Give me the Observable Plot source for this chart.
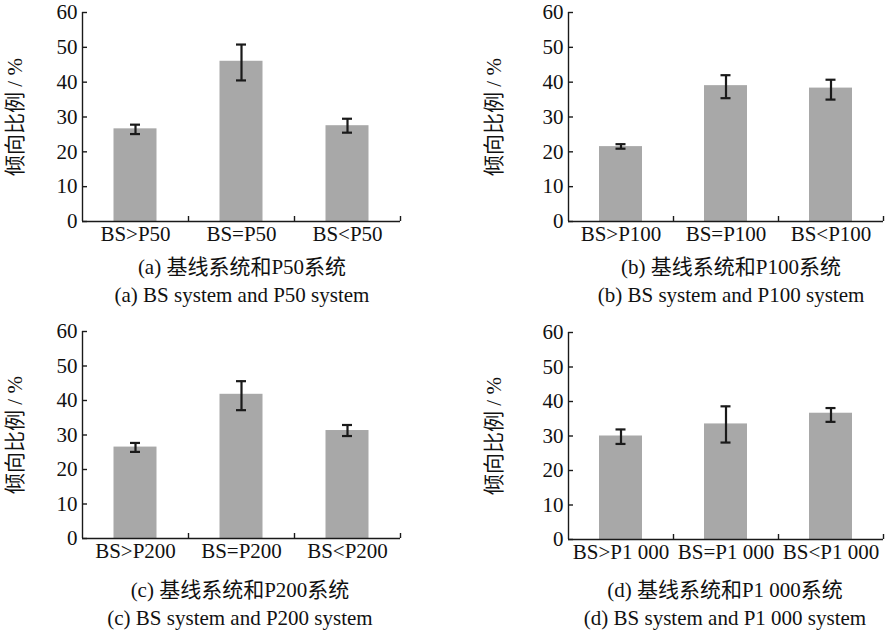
<!DOCTYPE html>
<html><head><meta charset="utf-8">
<script src="https://cdn.jsdelivr.net/npm/d3@7"></script>
<script src="https://cdn.jsdelivr.net/npm/@observablehq/plot@0.6"></script>
<style>
body{margin:0;background:#fff;}
#root{position:relative;width:885px;height:632px;overflow:hidden;font-family:'Liberation Serif','Noto Sans CJK SC',serif;color:#111;}
.panel{position:absolute;}
.cap{position:absolute;font-size:21px;line-height:28px;white-space:nowrap;transform:translateX(-50%);}
</style></head>
<body><div id="root"></div>
<script>
// ---- data ----
const catsA = ["BS>P50", "BS=P50", "BS<P50"];
const valA = [26.6, 46.0, 27.5];
const loA = [25.1, 40.5, 25.5];
const hiA = [27.8, 50.8, 29.5];

const catsB = ["BS>P100", "BS=P100", "BS<P100"];
const valB = [21.5, 39.0, 38.3];
const loB = [20.9, 35.4, 35.0];
const hiB = [22.2, 42.0, 40.7];

const catsC = ["BS>P200", "BS=P200", "BS<P200"];
const valC = [26.5, 41.8, 31.3];
const loC = [25.1, 37.2, 29.7];
const hiC = [27.7, 45.6, 32.9];

const catsD = ["BS>P1 000", "BS=P1 000", "BS<P1 000"];
const valD = [30.0, 33.5, 36.6];
const loD = [27.7, 28.1, 34.1];
const hiD = [31.9, 38.6, 38.1];

const yTicks = [0, 10, 20, 30, 40, 50, 60];
const yLabel = "倾向比例 / %";
const captionsCN = ["(a) 基线系统和P50系统", "(b) 基线系统和P100系统", "(c) 基线系统和P200系统", "(d) 基线系统和P1 000系统"];
const captionsEN = ["(a) BS system and P50 system", "(b) BS system and P100 system", "(c) BS system and P200 system", "(d) BS system and P1 000 system"];

// ---- layout ----
const panels = [
  {cats: catsA, val: valA, lo: loA, hi: hiA, left: 0, top: 0, width: 442, height: 250, mt: 12, mb: 29, ml: 82, mr: 42, labelOffset: 75, capX: 242, capY1: 253, capY2: 281},
  {cats: catsB, val: valB, lo: loB, hi: hiB, left: 442, top: 0, width: 443, height: 250, mt: 12, mb: 29, ml: 126, mr: 2, labelOffset: 82, capX: 731, capY1: 253, capY2: 281},
  {cats: catsC, val: valC, lo: loC, hi: hiC, left: 0, top: 315, width: 442, height: 250, mt: 16, mb: 27, ml: 82, mr: 42, labelOffset: 75, capX: 240, capY1: 576, capY2: 604},
  {cats: catsD, val: valD, lo: loD, hi: hiD, left: 442, top: 315, width: 443, height: 250, mt: 17, mb: 26, ml: 126, mr: 2, labelOffset: 82, capX: 725, capY1: 576, capY2: 604}
];

const root = document.getElementById("root");
const axisColor = "#1a1a1a";

panels.forEach((p, i) => {
  const data = p.cats.map((c, k) => ({cat: c, v: p.val[k], lo: p.lo[k], hi: p.hi[k]}));
  const plotW = p.width - p.ml - p.mr;
  const plotH = p.height - p.mt - p.mb;
  const step = plotW / p.cats.length;
  const barW = 43;
  const capW = 10;
  const tickUnits = 5 * 60 / plotH;
  const chart = Plot.plot({
    width: p.width,
    height: p.height,
    marginTop: p.mt, marginBottom: p.mb, marginLeft: p.ml, marginRight: p.mr,
    style: {fontFamily: "'Liberation Serif','Noto Sans CJK SC',serif", fontSize: "21px", color: "#111", background: "transparent", overflow: "visible"},
    x: {domain: p.cats, padding: 0},
    y: {domain: [0, 60]},
    marks: [
      Plot.barY(data, {x: "cat", y: "v", fill: "#a8a8a8", insetLeft: (step - barW) / 2, insetRight: (step - barW) / 2}),
      Plot.ruleX(data, {x: "cat", y1: "lo", y2: "hi", stroke: "#1a1a1a", strokeWidth: 2.2}),
      Plot.tickY(data, {x: "cat", y: "lo", stroke: "#1a1a1a", strokeWidth: 2.2, insetLeft: (step - capW) / 2, insetRight: (step - capW) / 2}),
      Plot.tickY(data, {x: "cat", y: "hi", stroke: "#1a1a1a", strokeWidth: 2.2, insetLeft: (step - capW) / 2, insetRight: (step - capW) / 2}),
      // axis lines
      Plot.ruleY([0], {stroke: axisColor, strokeWidth: 1.4}),
      Plot.ruleX([p.cats[0]], {dx: -step / 2, y1: 0, y2: 60, stroke: axisColor, strokeWidth: 1.4}),
      // x ticks at band boundaries pointing up
      Plot.ruleX(p.cats, {dx: step / 2, y1: 0, y2: tickUnits, stroke: axisColor, strokeWidth: 1.4}),
      // y ticks pointing inward
      Plot.axisY({ticks: yTicks, tickSize: 5, dx: 5, tickFormat: () => "", label: null, stroke: axisColor, strokeWidth: 1.4}),
      // y tick labels and title
      Plot.axisY({ticks: yTicks, tickSize: 0, tickPadding: 5, fill: "#111", fontSize: 21, label: yLabel, labelAnchor: "center", labelArrow: "none", labelOffset: p.labelOffset}),
      Plot.axisX({tickSize: 0, tickPadding: 5, fill: "#111", fontSize: 21, label: null})
    ]
  });
  const wrap = document.createElement("div");
  wrap.className = "panel";
  wrap.style.left = p.left + "px";
  wrap.style.top = p.top + "px";
  wrap.appendChild(chart);
  root.appendChild(wrap);

  const c1 = document.createElement("div");
  c1.className = "cap";
  c1.style.left = p.capX + "px";
  c1.style.top = p.capY1 + "px";
  c1.textContent = captionsCN[i];
  root.appendChild(c1);
  const c2 = document.createElement("div");
  c2.className = "cap";
  c2.style.left = p.capX + "px";
  c2.style.top = p.capY2 + "px";
  c2.textContent = captionsEN[i];
  root.appendChild(c2);
});
</script>
</body></html>
